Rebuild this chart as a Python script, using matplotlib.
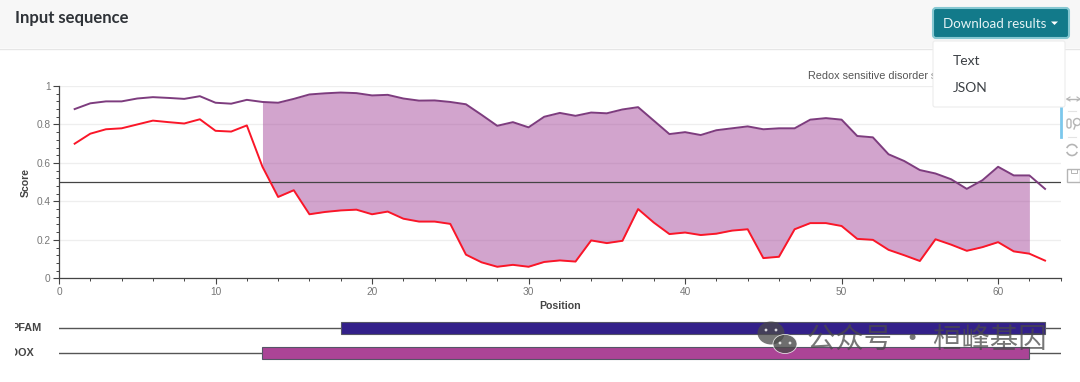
import matplotlib
matplotlib.use("Agg")
import matplotlib.pyplot as plt
from matplotlib.patches import Rectangle, FancyBboxPatch, Ellipse, Polygon, Circle, Arc
from matplotlib.ticker import MultipleLocator, FuncFormatter

positions = list(range(1, 64))
upper_score = [.88,.91,.92,.92,.935,.942,.938,.933,.947,.913,.908,.928,.917,.913,.933,.956,.962,.966,.963,.951,.954,
               .935,.924,.925,.917,.905,.85,.793,.812,.785,.84,.86,.845,.862,.858,.878,.89,.82,.75,.76,.745,.77,
               .78,.79,.775,.78,.78,.825,.833,.825,.74,.733,.645,.61,.563,.545,.515,.465,.51,.58,.535,.535,.465]
lower_score = [.70,.752,.775,.78,.80,.82,.812,.805,.827,.767,.763,.795,.58,.423,.458,.333,.345,.353,.357,.333,.347,
               .31,.295,.295,.283,.123,.083,.06,.07,.06,.085,.093,.087,.197,.183,.195,.36,.29,.23,.238,.225,.232,
               .248,.255,.105,.112,.255,.287,.287,.272,.205,.2,.148,.12,.09,.203,.175,.143,.162,.188,.14,.128,.092]
threshold = 0.5
region_start, region_end = 13, 62
track_names = ["PFAM", "REDOX"]
track_ranges = [(18, 63), (13, 62)]
track_colors = ["#33208a", "#ab4496"]
x_max = 64
W, H = 1080, 382

def box(l, t, r, b):
    return [l / W, 1 - b / H, (r - l) / W, (b - t) / H]

fig = plt.figure(figsize=(W / 100, H / 100), dpi=100, facecolor="white")
sans = ["Liberation Sans", "DejaVu Sans"]

# main chart
ax = fig.add_axes(box(59, 86, 1060.7, 278.3), zorder=1)
ax.set_xlim(0, x_max)
ax.set_ylim(0, 1)
for s in ("top", "right"):
    ax.spines[s].set_visible(False)
for s in ("left", "bottom"):
    ax.spines[s].set_color("#444444")
    ax.spines[s].set_linewidth(0.9)
ax.yaxis.set_major_locator(MultipleLocator(0.2))
ax.yaxis.set_minor_locator(MultipleLocator(0.04))
ax.xaxis.set_major_locator(MultipleLocator(10))
ax.xaxis.set_minor_locator(MultipleLocator(2))
fmt = FuncFormatter(lambda v, p: f"{v:g}")
ax.xaxis.set_major_formatter(fmt)
ax.yaxis.set_major_formatter(fmt)
ax.tick_params(which="major", length=4, width=0.8, color="#444444", labelcolor="#777777", labelsize=7.3, pad=2)
ax.tick_params(which="minor", length=2, width=0.7, color="#444444")
ax.grid(axis="y", which="major", color="#eeeeee", lw=0.9)
ax.set_axisbelow(True)
for lab in ax.get_xticklabels() + ax.get_yticklabels():
    lab.set_family(sans)
ax.set_xlabel("Position", family=sans, fontsize=7.6, fontweight="bold", color="#444444", labelpad=3.5)
ax.set_ylabel("Score", family=sans, fontsize=7.6, fontweight="bold", color="#444444", labelpad=4)
ax.fill_between(positions, lower_score, upper_score,
                where=[region_start <= p <= region_end for p in positions],
                color="#a64a9c", alpha=0.5, lw=0, zorder=2)
ax.axhline(threshold, color="#444444", lw=0.9, zorder=3)
ax.plot(positions, upper_score, color="#7d3c7e", lw=1.4, zorder=4)
ax.plot(positions, lower_score, color="#fa1628", lw=1.4, zorder=4)

# feature tracks
tr = fig.add_axes(box(59, 317, 1060.7, 368), zorder=1)
tr.set_xlim(0, x_max)
tr.set_ylim(1.6, -0.45)
tr.axis("off")
tr.patch.set_alpha(0)
for i, (name, (a, b), c) in enumerate(zip(track_names, track_ranges, track_colors)):
    tr.plot([0, x_max], [i, i], color="#555555", lw=1.0, zorder=1)
    tr.add_patch(Rectangle((a, i - 0.24), b - a, 0.48, fc=c, ec="#555566", lw=0.8, zorder=2))

# page chrome, drawn in pixel coordinates
ov = fig.add_axes([0, 0, 1, 1], zorder=5)
ov.set_xlim(0, W)
ov.set_ylim(H, 0)
ov.axis("off")
ov.patch.set_alpha(0)

ov.add_patch(Rectangle((0, 0), W, 48, fc="#f7f7f7", ec="none", zorder=0))
ov.plot([0, W], [48.5, 48.5], color="#e6e6e6", lw=1, zorder=1)
ov.text(15, 18.5, "Input sequence", family="Lato", fontsize=12, fontweight="bold", color="#2f3338", va="center")

for name, y, right in zip(track_names, (328, 353), (42, 34)):
    t = ov.text(right, y, name, family=sans, fontsize=7.8, fontweight="bold", color="#444444", ha="right", va="center")
    t.set_clip_on(True)
    t.set_clip_path(Rectangle((15, 300), 60, 70, transform=ov.transData))

ov.text(808, 76, "Redox sensitive disorder score", family=sans, fontsize=7.8, color="#555555", va="center", zorder=1)

# dropdown
ov.add_patch(FancyBboxPatch((933, 8), 136, 30, boxstyle="round,pad=0,rounding_size=3", fc="#127a8a", ec="#86c8d2", lw=1.5, zorder=3))
ov.text(943, 23.5, "Download results", family="Lato", fontsize=9.6, color="#e6f3f5", va="center", zorder=4)
ov.add_patch(Polygon([[1051, 21.5], [1058, 21.5], [1054.5, 25]], fc="white", ec="none", zorder=4))
ov.add_patch(FancyBboxPatch((933, 41), 132, 66, boxstyle="round,pad=0,rounding_size=2", fc="white", ec="#ececec", lw=0.8, zorder=3))
ov.text(953, 61, "Text", family="Lato", fontsize=10, color="#3c4045", va="center", zorder=4)
ov.text(953, 88, "JSON", family="Lato", fontsize=10, color="#3c4045", va="center", zorder=4)

# chart toolbar
g = "#b5b5b5"
ov.plot([1067, 1080], [99, 99], color=g, lw=1, zorder=2)
ov.plot([1067, 1070], [99, 97], color=g, lw=0.8, zorder=2)
ov.plot([1067, 1070], [99, 101], color=g, lw=0.8, zorder=2)
ov.plot([1077, 1080], [97, 99], color=g, lw=0.8, zorder=2)
ov.plot([1077, 1080], [101, 99], color=g, lw=0.8, zorder=2)
ov.plot([1061, 1061], [107, 137], color="#7cc8ec", lw=2, zorder=2)
ov.plot([1068, 1076], [111, 111], color="#e4e4e4", lw=0.8, zorder=2)
ov.plot([1068, 1076], [137, 137], color="#e4e4e4", lw=0.8, zorder=2)
ov.add_patch(FancyBboxPatch((1067, 119), 4, 9, boxstyle="round,pad=0,rounding_size=2", fc="none", ec=g, lw=1, zorder=2))
ov.add_patch(Circle((1077, 122), 3.5, fc="none", ec=g, lw=1, zorder=2))
ov.plot([1075.5, 1074], [125, 129], color=g, lw=1, zorder=2)
ov.add_patch(Arc((1072, 150), 11, 11, theta1=20, theta2=160, ec=g, lw=1.2, zorder=2))
ov.add_patch(Arc((1072, 150), 11, 11, theta1=200, theta2=340, ec=g, lw=1.2, zorder=2))
ov.add_patch(Rectangle((1066.5, 169), 13, 13, fc="white", ec=g, lw=1, zorder=2))
ov.add_patch(Rectangle((1071, 169), 6, 4, fc="none", ec=g, lw=0.7, zorder=2))

# watermark
wm = "#4a4a4a"
ov.add_patch(Ellipse((771, 333), 27, 23, fc=wm, ec="none", alpha=0.75, zorder=6))
ov.add_patch(Ellipse((785, 344), 24, 19, fc=wm, ec="white", lw=0.6, alpha=0.8, zorder=7))
for x, y, c in [(766, 330, "white"), (776, 330, "white"), (780, 343, "white"), (790, 343, "white")]:
    ov.add_patch(Circle((x, y), 1.4, fc=c, ec="none", alpha=0.8, zorder=8))
ov.text(807, 340, "公众号 · 桓峰基因", family=["Noto Sans CJK SC", "DejaVu Sans"], fontsize=20.4,
        color=wm, alpha=0.75, va="center", zorder=8)

fig.savefig("out.png", dpi=100, facecolor="white")
